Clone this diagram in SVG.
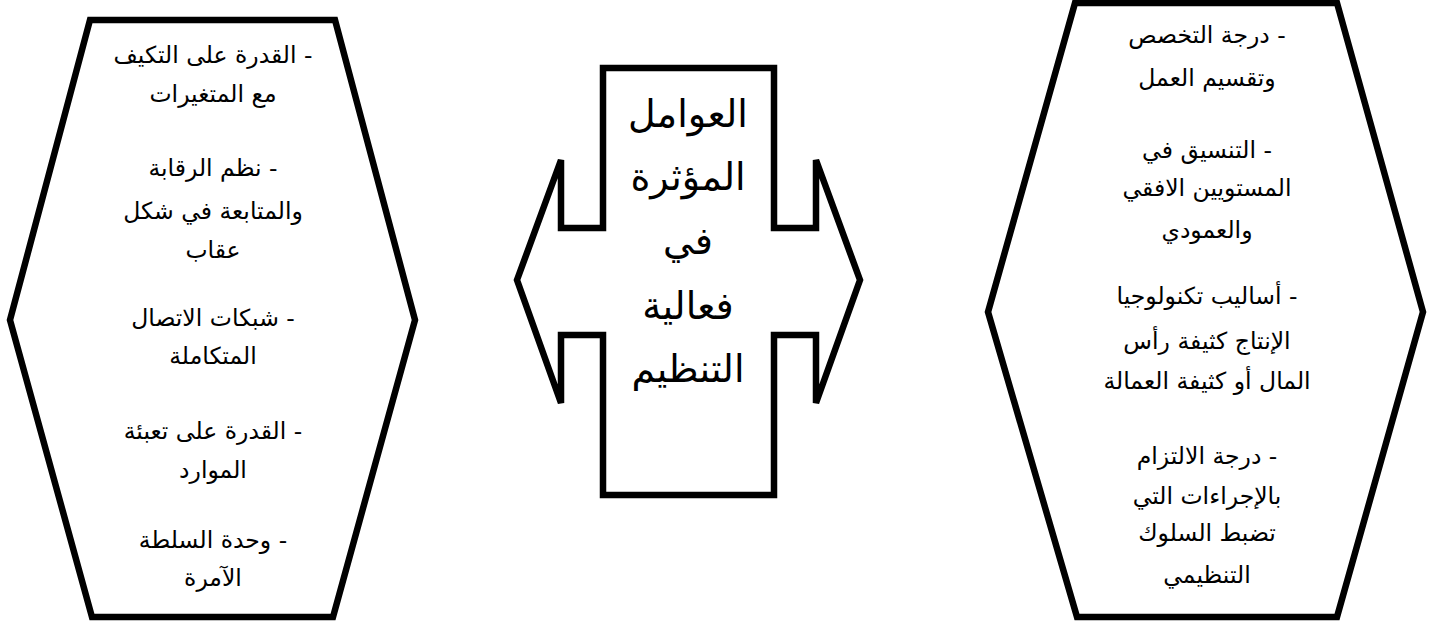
<svg xmlns="http://www.w3.org/2000/svg" width="1437" height="622" viewBox="0 0 1437 622">
<style>
.shape{fill:#fff;stroke:#000;stroke-width:6.5;stroke-linejoin:miter}
.t{font-family:"DejaVu Sans","Liberation Sans",sans-serif;font-size:23.5px;fill:#000;text-anchor:middle;direction:rtl}
.c{font-family:"DejaVu Sans","Liberation Sans",sans-serif;font-size:38px;fill:#000;text-anchor:middle;direction:rtl}
</style>
<rect width="1437" height="622" fill="#fff"/>
<g id="left-hexagon">
<polygon class="shape" points="90,20 335,20 415,320 333,617 92,617 10,320"/>
<text class="t" x="213" y="63">- القدرة على التكيف</text>
<text class="t" x="213" y="102">مع المتغيرات</text>
<text class="t" x="213" y="176">- نظم الرقابة</text>
<text class="t" x="213" y="219">والمتابعة في شكل</text>
<text class="t" x="213" y="258">عقاب</text>
<text class="t" x="213" y="326">- شبكات الاتصال</text>
<text class="t" x="213" y="364">المتكاملة</text>
<text class="t" x="213" y="439">- القدرة على تعبئة</text>
<text class="t" x="213" y="478">الموارد</text>
<text class="t" x="213" y="548">- وحدة السلطة</text>
<text class="t" x="213" y="586">الآمرة</text>
</g>
<g id="center-arrow">
<polygon class="shape" points="603,68 774,68 774,228 816,228 816,160 860,280 816,403 816,335 774,335 774,495 603,495 603,335 561,335 561,403 517,280 561,160 561,228 603,228"/>
<text class="c" x="688" y="127">العوامل</text>
<text class="c" x="688" y="190">المؤثرة</text>
<text class="c" x="688" y="254">في</text>
<text class="c" x="688" y="319">فعالية</text>
<text class="c" x="688" y="382">التنظيم</text>
</g>
<g id="right-hexagon">
<polygon class="shape" points="1075,3 1337,3 1423,312 1337,617 1077,617 988,312"/>
<text class="t" x="1207" y="43">- درجة التخصص</text>
<text class="t" x="1207" y="86">وتقسيم العمل</text>
<text class="t" x="1207" y="158">- التنسيق في</text>
<text class="t" x="1207" y="196">المستويين الافقي</text>
<text class="t" x="1207" y="238">والعمودي</text>
<text class="t" x="1207" y="304">- أساليب تكنولوجيا</text>
<text class="t" x="1207" y="349">الإنتاج كثيفة رأس</text>
<text class="t" x="1207" y="389">المال أو كثيفة العمالة</text>
<text class="t" x="1207" y="464">- درجة الالتزام</text>
<text class="t" x="1207" y="504">بالإجراءات التي</text>
<text class="t" x="1207" y="541">تضبط السلوك</text>
<text class="t" x="1207" y="583">التنظيمي</text>
</g>
<g id="connectors"></g>
</svg>
